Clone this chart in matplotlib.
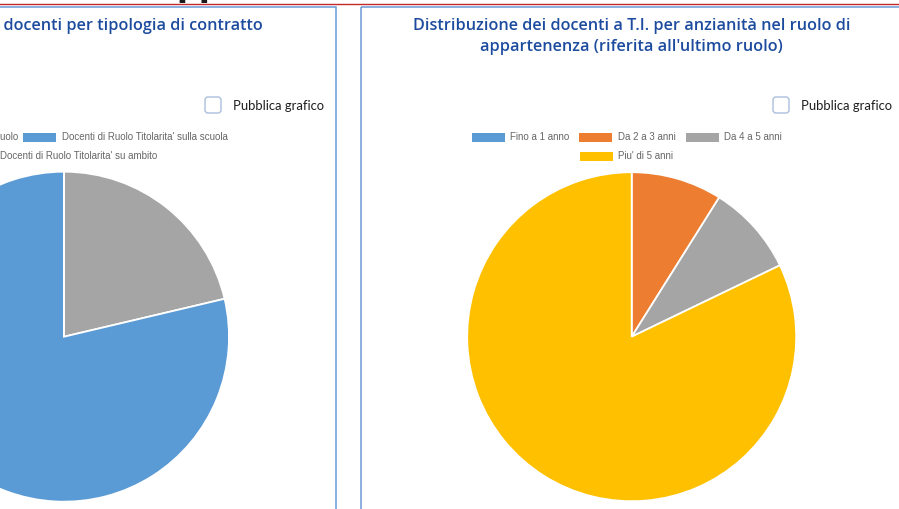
import matplotlib
matplotlib.use("Agg")
import matplotlib.pyplot as plt
from matplotlib.patches import Rectangle, FancyBboxPatch

W, H = 899, 509
PT = 0.72  # px -> pt at dpi 100

# --- data ---
left_title = "Distribuzione dei docenti per tipologia di contratto"
left_labels = ["Docenti non di ruolo",
               "Docenti di Ruolo Titolarita' sulla scuola",
               "Docenti di Ruolo Titolarita' su ambito"]
left_values = [13, 48, 0]
left_colors = ["#A5A5A5", "#5B9BD5", "#ED7D31"]

right_title = ("Distribuzione dei docenti a T.I. per anzianità nel ruolo di\n"
               "appartenenza (riferita all'ultimo ruolo)")
right_labels = ["Fino a 1 anno", "Da 2 a 3 anni", "Da 4 a 5 anni", "Piu' di 5 anni"]
right_values = [0, 5, 5, 46]
right_colors = ["#5B9BD5", "#ED7D31", "#A5A5A5", "#FFC000"]

checkbox_text = "Pubblica grafico"

TITLE_COLOR = "#1d4c9f"
BORDER = "#6c9bd6"

fig = plt.figure(figsize=(W / 100, H / 100), dpi=100)
bg = fig.add_axes([0, 0, 1, 1])
bg.set_xlim(0, W)
bg.set_ylim(H, 0)
bg.axis("off")

# page header remnants
bg.text(176, -3.7, "pp", fontsize=32 * PT, fontweight="bold", color="#1a1a1a",
        family="DejaVu Sans", va="baseline", ha="left", clip_on=False)
bg.plot([0, W], [3.5, 3.5], color="#c62828", lw=1.0)

# panel frames
bg.add_patch(Rectangle((-20, 6.5), 355.5, 530, fill=False, ec=BORDER, lw=1.1))
bg.add_patch(Rectangle((361, 6.5), 600, 530, fill=False, ec=BORDER, lw=1.1))


def panel(cx, cy, r, title, labels, values, colors, legend_rows, box_x):
    # title
    bg.text(cx, 17.5, title, ha="center", va="top", fontsize=16.2 * PT,
            family="Open Sans", fontweight="semibold", color=TITLE_COLOR,
            linespacing=1.42)
    # publish checkbox
    bg.add_patch(FancyBboxPatch((box_x, 97), 16, 16,
                                boxstyle="round,pad=0,rounding_size=3",
                                fc="white", ec="#a9bfdc", lw=1.0))
    bg.text(box_x + 28, 105.5, checkbox_text, ha="left", va="center",
            fontsize=13 * PT, family="Lato", color="#1e1e1e")
    # legend
    for y, items in legend_rows:
        for i, x in items:
            bg.add_patch(Rectangle((x, y - 4.5), 33, 9, fc=colors[i], ec="none"))
            bg.text(x + 38.5, y, labels[i], ha="left", va="center",
                    fontsize=9.8 * PT, family="Liberation Sans", color="#666666")
    # pie
    ax = fig.add_axes([(cx - r) / W, (H - cy - r) / H, 2 * r / W, 2 * r / H])
    ax.pie(values, colors=colors, startangle=90, counterclock=False,
           wedgeprops=dict(edgecolor="white", linewidth=1.3))
    ax.set_xlim(-1, 1)
    ax.set_ylim(-1, 1)
    ax.set_aspect("equal")
    ax.axis("off")


panel(64, 336.7, 165, left_title, left_labels, left_values, left_colors,
      [(137.5, [(0, -107), (1, 23)]), (156, [(2, -39)])], 205)
panel(631.7, 336.7, 164.5, right_title, right_labels, right_values, right_colors,
      [(137.5, [(0, 472), (1, 579), (2, 686)]), (156, [(3, 580)])], 773)

fig.savefig("out.png", dpi=100)
